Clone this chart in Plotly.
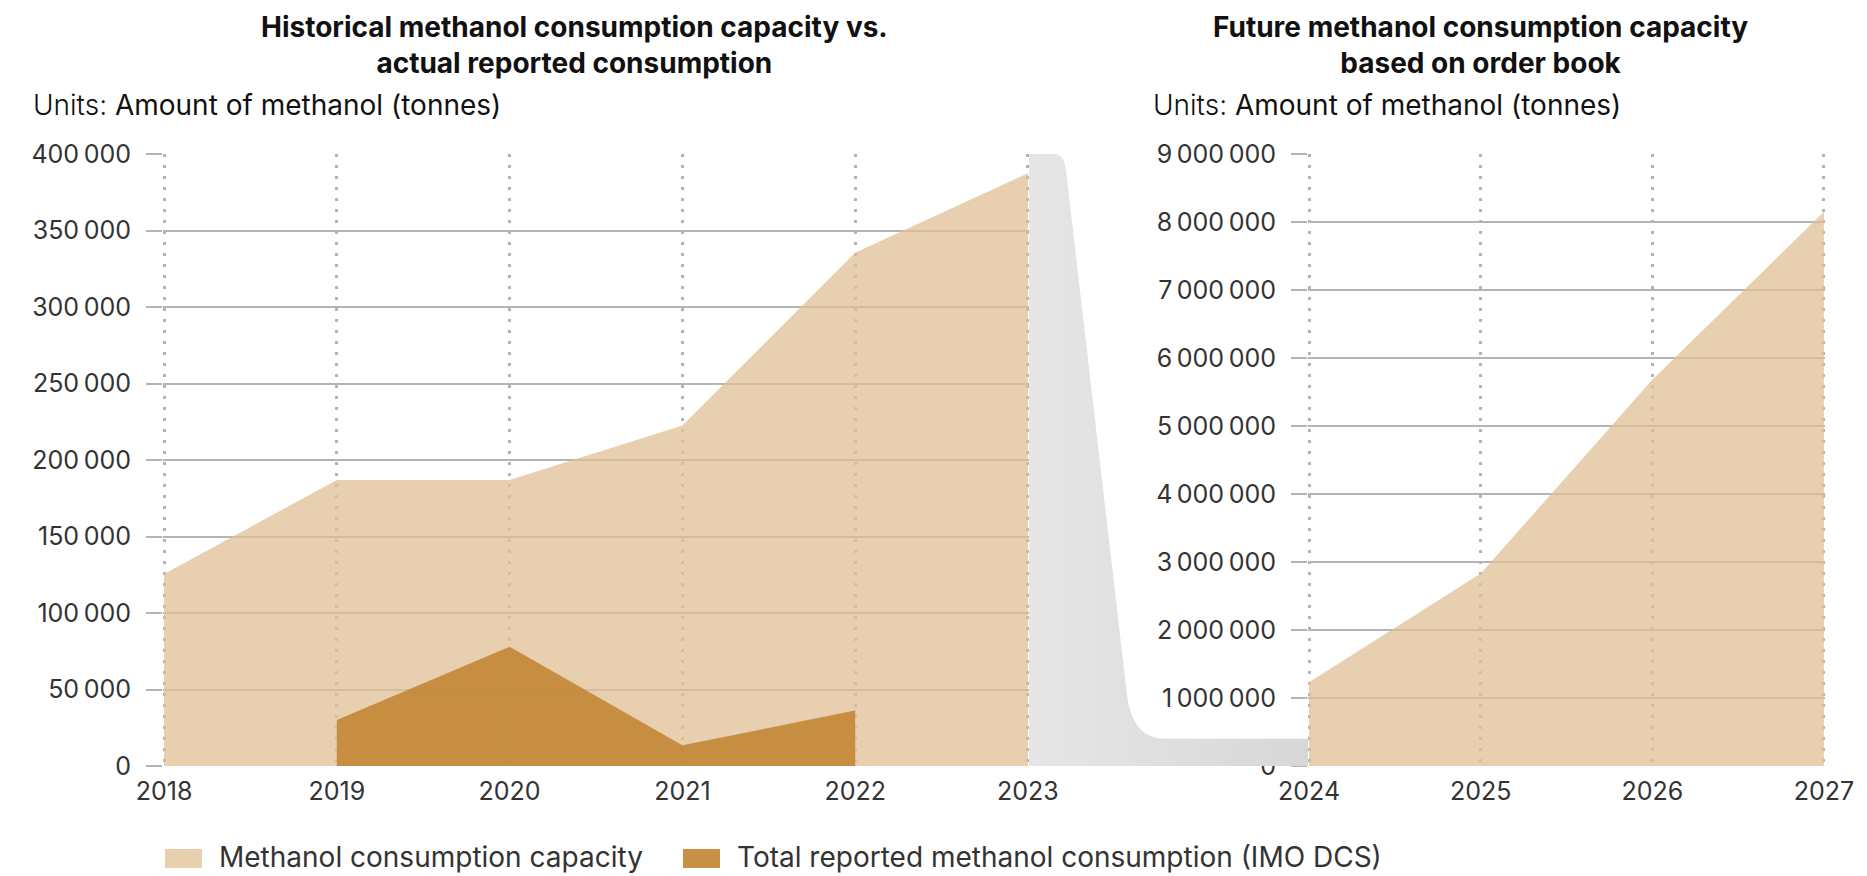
import numpy as np
import plotly.graph_objects as go

# ---------------- data ----------------
hist_years = [2018, 2019, 2020, 2021, 2022, 2023]
hist_capacity = [125500, 187000, 187000, 222500, 335500, 387500]
rep_years = [2019, 2020, 2021, 2022]
rep_consumption = [30000, 78000, 13500, 36200]

fut_years = [2024, 2025, 2026, 2027]
fut_capacity = [1230000, 2830000, 5680000, 8150000]

left_title = "<b>Historical methanol consumption capacity vs.<br>actual reported consumption</b>"
right_title = "<b>Future methanol consumption capacity<br>based on order book</b>"
units_label = "<span style='font-weight:300'>Units:</span> Amount of methanol (tonnes)"
cap_name = "Methanol consumption capacity"
rep_name = "Total reported methanol consumption (IMO DCS)"

left_ymax, left_dtick = 400000, 50000
right_ymax, right_dtick = 9000000, 1000000

# ---------------- style ----------------
W, H = 1867, 876
FONT = "Inter"
CAP_FILL = "rgba(224,191,148,0.75)"
CAP_SWATCH = "#e8cfae"
REP_FILL = "rgba(194,133,51,0.88)"
REP_SWATCH = "#c89046"
GRID = "#b4b4b4"
TXT = "#333333"
EPS = 0.006

def px(x):
    return x / W

def py(y):
    return (H - y) / H

x_left = [px(163), px(1029)]
x_right = [px(1308), px(1825)]
y_dom = [py(766), py(154)]

fig = go.Figure()

fig.add_trace(go.Scatter(x=hist_years, y=hist_capacity, name=cap_name, mode="none",
                         fill="tozeroy", fillcolor=CAP_FILL, xaxis="x", yaxis="y",
                         showlegend=False))
fig.add_trace(go.Scatter(x=rep_years, y=rep_consumption, name=rep_name, mode="none",
                         fill="tozeroy", fillcolor=REP_FILL, xaxis="x", yaxis="y",
                         showlegend=False))
fig.add_trace(go.Scatter(x=fut_years, y=fut_capacity, name=cap_name, mode="none",
                         fill="tozeroy", fillcolor=CAP_FILL, xaxis="x2", yaxis="y2",
                         showlegend=False))

# ---------------- connector band (decoration) ----------------
span = 1308 - 1029
def u(xp):
    return (xp - 1029) / span
def v(yp):
    return (766 - yp) / 612

v_right = left_ymax / right_ymax  # left range 0..400k shown on right scale

def quad(p0, c, p1, n=12):
    t = np.linspace(0, 1, n)
    xs = (1 - t) ** 2 * p0[0] + 2 * (1 - t) * t * c[0] + t ** 2 * p1[0]
    ys = (1 - t) ** 2 * p0[1] + 2 * (1 - t) * t * c[1] + t ** 2 * p1[1]
    return list(xs), list(ys)

bx, by = [0, 0, u(1054)], [0, 1, 1]
qx, qy = quad((u(1054), 1), (u(1064), 1), (u(1066), v(170)))
bx += qx; by += qy
bx += [u(1127)]; by += [v(695)]
qx, qy = quad((u(1127), v(695)), (u(1132.5), v_right), (u(1165), v_right))
bx += qx; by += qy
bx += [1, 1, 0]; by += [v_right, 0, 0]

fig.add_trace(go.Scatter(x=bx, y=by, mode="none", fill="toself",
                         fillgradient=dict(type="horizontal",
                                           colorscale=[[0, "#e6e6e6"], [1, "#d7d7d7"]]),
                         xaxis="x3", yaxis="y3", showlegend=False, hoverinfo="skip"))

axis_common = dict(
    showline=False, zeroline=False,
    tickfont=dict(family=FONT, size=25, color=TXT),
)
xgrid = dict(showgrid=True, gridcolor=GRID, griddash="3px,8px", gridwidth=2.5,
             ticks="", ticklabelstandoff=8)
ygrid = dict(showgrid=True, gridcolor=GRID, gridwidth=1.5, tickformat=",d",
             ticks="outside", ticklen=16, tickcolor=GRID, tickwidth=1.5,
             ticklabelstandoff=10)

fig.update_layout(
    width=W, height=H,
    margin=dict(l=0, r=0, t=0, b=0, autoexpand=False),
    paper_bgcolor="white", plot_bgcolor="white",
    separators=".\u2009",
    font=dict(family=FONT, color=TXT),
    showlegend=False,
    xaxis=dict(domain=x_left, range=[hist_years[0] - EPS, hist_years[-1] + EPS],
               tickvals=hist_years, anchor="y", **xgrid, **axis_common),
    yaxis=dict(domain=y_dom, range=[0, left_ymax], dtick=left_dtick, anchor="x",
               **ygrid, **axis_common),
    xaxis2=dict(domain=x_right, range=[fut_years[0] - EPS, fut_years[-1] + EPS],
                tickvals=fut_years, anchor="y2", **xgrid, **axis_common),
    yaxis2=dict(domain=y_dom, range=[0, right_ymax], dtick=right_dtick, anchor="x2",
                **ygrid, **axis_common),
    xaxis3=dict(domain=[x_left[1], x_right[0]], range=[0, 1], visible=False, anchor="y3"),
    yaxis3=dict(domain=y_dom, range=[0, 1], visible=False, anchor="x3"),
)

def text(x, y, s, size, color="#111111", anchor="left"):
    fig.add_annotation(x=px(x), y=py(y), xref="paper", yref="paper", text=s,
                       showarrow=False, xanchor=anchor, yanchor="middle", align="center",
                       font=dict(family=FONT, size=size, color=color))

# titles
text(574, 45, left_title, 28, "#111111", "center")
text(1480, 45, right_title, 28, "#111111", "center")
text(31, 105, units_label, 28)
text(1151, 105, units_label, 28)

# legend (drawn manually to match swatch size)
legend_items = [(cap_name, CAP_SWATCH, 165), (rep_name, REP_SWATCH, 683)]
for name, col, x0 in legend_items:
    fig.add_shape(type="rect", xref="paper", yref="paper",
                  x0=px(x0), x1=px(x0 + 37), y0=py(868), y1=py(849),
                  fillcolor=col, line=dict(width=0))
    text(x0 + 52, 857, name, 28, TXT)

fig.write_html("out.html", config={"displayModeBar": False},
               post_script="document.body.style.margin='0';document.body.style.overflow='hidden';")
